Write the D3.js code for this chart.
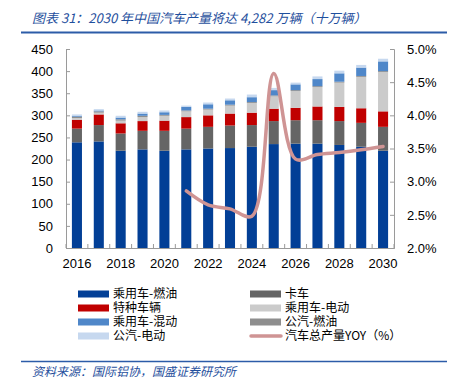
<!DOCTYPE html>
<html>
<head>
<meta charset="utf-8">
<script src="https://cdn.jsdelivr.net/npm/d3@7"></script>
<style>
  body { margin: 0; background: #fff; }
  svg { display: block; }
</style>
</head>
<body>
<div id="chart-area"></div>
<script>
const YEARS = ['2016', '2017', '2018', '2019', '2020', '2021', '2022', '2023', '2024', '2025', '2026', '2027', '2028', '2029', '2030'];
const X_LABELS = ['2016', '2018', '2020', '2022', '2024', '2026', '2028', '2030'];
const Y_TICKS = [0, 50, 100, 150, 200, 250, 300, 350, 400, 450];
const Y2_TICKS = [0.020, 0.025, 0.030, 0.035, 0.040, 0.045, 0.050];

// stacked series, bottom to top (十万辆)
const PASSENGER_FUEL = [239, 241, 220, 223, 220, 223, 225, 226, 229, 235, 236, 236, 233, 229, 220];
const TRUCK = [31, 37, 39, 42, 45, 47, 49, 51, 49, 52, 53, 53, 54, 54, 54];
const SPECIAL = [20, 24, 23, 22, 23, 26, 26, 27, 28, 28, 28, 31, 32, 33, 35];
const PASSENGER_EV = [4, 4, 6, 9, 11, 13, 13, 18, 22, 28, 38, 44, 55, 71, 89];
const BUS_FUEL = [3, 3, 3, 3, 2, 2, 2, 2, 2, 2, 2, 2, 2, 2, 2];
const PASSENGER_HYBRID = [2, 2, 4, 5, 6, 8, 10, 10, 11, 12, 13, 16, 19, 19, 22];
const BUS_EV = [3, 3, 4, 4, 4, 3, 4, 4, 6, 5, 4, 6, 6, 6, 6];
// 汽车总产量YOY, from 2021
const YOY_YEARS = ['2021', '2022', '2023', '2024', '2025', '2026', '2027', '2028', '2029', '2030'];
const YOY = [0.0286, 0.0265, 0.0259, 0.0248, 0.0463, 0.0334, 0.0341, 0.0344, 0.0348, 0.0353];

const SERIES = [
  { key: 'pf', name: '乘用车-燃油', values: PASSENGER_FUEL, color: '#023f96' },
  { key: 'tr', name: '卡车', values: TRUCK, color: '#656565' },
  { key: 'sp', name: '特种车辆', values: SPECIAL, color: '#c00000' },
  { key: 'ev', name: '乘用车-电动', values: PASSENGER_EV, color: '#cbcbcb' },
  { key: 'bf', name: '公汽-燃油', values: BUS_FUEL, color: '#8e8e8e' },
  { key: 'hy', name: '乘用车-混动', values: PASSENGER_HYBRID, color: '#4f87c9' },
  { key: 'be', name: '公汽-电动', values: BUS_EV, color: '#c6d8ef' },
];
const LINE_COLOR = '#cf9494';

const table = YEARS.map((year, i) => {
  const row = { year };
  SERIES.forEach((s) => { row[s.key] = s.values[i]; });
  return row;
});

const W = 454, H = 378;
const plot = { left: 66, right: 394, top: 49, bottom: 248 };

const svg = d3.select('#chart-area')
  .append('svg')
  .attr('width', W)
  .attr('height', H)
  .style('font-family', '"Liberation Sans", Arial, sans-serif');

// title + rules
svg.append('text')
  .attr('x', 32)
  .attr('y', 23)
  .attr('fill', '#1f4f9d')
  .style('font-style', 'italic')
  .style('font-size', '13px')
  .style('font-family', '"Noto Sans CJK SC", "Liberation Sans", sans-serif')
  .text('图表 31：2030 年中国汽车产量将达 4,282 万辆（十万辆）');

svg.append('line')
  .attr('x1', 21).attr('x2', 447)
  .attr('y1', 32.5).attr('y2', 32.5)
  .attr('stroke', '#2c5ca8')
  .attr('stroke-width', 2);

svg.append('line')
  .attr('x1', 21).attr('x2', 447)
  .attr('y1', 361.5).attr('y2', 361.5)
  .attr('stroke', '#2c5ca8')
  .attr('stroke-width', 1.5);

svg.append('text')
  .attr('x', 32)
  .attr('y', 376)
  .attr('fill', '#1f4f9d')
  .style('font-style', 'italic')
  .style('font-size', '12px')
  .style('font-family', '"Noto Sans CJK SC", sans-serif')
  .text('资料来源：国际铝协，国盛证券研究所');

// scales
const x = d3.scaleBand()
  .domain(YEARS)
  .range([plot.left, plot.right])
  .paddingInner(0.54)
  .paddingOuter(0.27);

const y = d3.scaleLinear()
  .domain([0, 450])
  .range([plot.bottom, plot.top]);

const y2 = d3.scaleLinear()
  .domain([0.02, 0.05])
  .range([plot.bottom, plot.top]);

// bars
const stacked = d3.stack().keys(SERIES.map((s) => s.key))(table);

svg.append('g')
  .selectAll('g')
  .data(stacked)
  .join('g')
  .attr('fill', (d, i) => SERIES[i].color)
  .selectAll('rect')
  .data((d) => d)
  .join('rect')
  .attr('x', (d) => x(d.data.year))
  .attr('width', x.bandwidth())
  .attr('y', (d) => y(d[1]))
  .attr('height', (d) => y(d[0]) - y(d[1]));

// axes
const axisColor = '#9a9a9a';

const yAxis = svg.append('g')
  .attr('transform', `translate(${plot.left},0)`)
  .call(d3.axisLeft(y).tickValues(Y_TICKS).tickSize(-4).tickPadding(13));

const y2Axis = svg.append('g')
  .attr('transform', `translate(${plot.right},0)`)
  .call(d3.axisRight(y2).tickValues(Y2_TICKS).tickFormat(d3.format('.1%')).tickSize(-4).tickPadding(13));

const xAxis = svg.append('g')
  .attr('transform', `translate(0,${plot.bottom})`)
  .call(d3.axisBottom(x).tickValues(X_LABELS).tickSize(0).tickPadding(11));

// minor ticks at band edges, pointing up
xAxis.selectAll('.edge')
  .data(d3.range(YEARS.length + 1))
  .join('line')
  .attr('class', 'edge')
  .attr('x1', (i) => x.range()[0] + i * x.step())
  .attr('x2', (i) => x.range()[0] + i * x.step())
  .attr('y1', 0)
  .attr('y2', -4)
  .attr('stroke', axisColor);

[yAxis, y2Axis, xAxis].forEach((g) => {
  g.select('.domain').attr('stroke', axisColor);
  g.selectAll('.tick line').attr('stroke', axisColor);
  g.selectAll('.tick text')
    .attr('fill', '#000')
    .style('font-size', '13px')
    .style('font-family', '"Liberation Sans", Arial, sans-serif');
});

// yoy line
const line = d3.line()
  .x((d, i) => x(YOY_YEARS[i]) + x.bandwidth() / 2)
  .y((d) => y2(d))
  .curve(d3.curveCatmullRom.alpha(0.5));

svg.append('path')
  .datum(YOY)
  .attr('fill', 'none')
  .attr('stroke', LINE_COLOR)
  .attr('stroke-width', 3.5)
  .attr('stroke-linecap', 'round')
  .attr('d', line);

// legend
const LEGEND = [
  { name: '乘用车-燃油', color: SERIES[0].color },
  { name: '卡车', color: SERIES[1].color },
  { name: '特种车辆', color: SERIES[2].color },
  { name: '乘用车-电动', color: SERIES[3].color },
  { name: '乘用车-混动', color: SERIES[5].color },
  { name: '公汽-燃油', color: SERIES[4].color },
  { name: '公汽-电动', color: SERIES[6].color },
  { name: '汽车总产量YOY（%）', color: LINE_COLOR, line: true },
];

const legend = svg.append('g')
  .selectAll('g')
  .data(LEGEND)
  .join('g')
  .attr('transform', (d, i) => `translate(${i % 2 ? 250 : 78},${294 + Math.floor(i / 2) * 14})`);

legend.filter((d) => !d.line)
  .append('rect')
  .attr('x', 0)
  .attr('y', -3.5)
  .attr('width', 31)
  .attr('height', 7)
  .attr('fill', (d) => d.color);

legend.filter((d) => d.line)
  .append('line')
  .attr('x1', 1).attr('x2', 31)
  .attr('y1', 0).attr('y2', 0)
  .attr('stroke', (d) => d.color)
  .attr('stroke-width', 3.5)
  .attr('stroke-linecap', 'round');

legend.append('text')
  .attr('x', 35)
  .attr('y', 0)
  .attr('dy', '0.36em')
  .style('font-size', '12px')
  .style('font-family', '"Noto Sans CJK SC", sans-serif')
  .attr('fill', '#000')
  .text((d) => d.name);
</script>
</body>
</html>
